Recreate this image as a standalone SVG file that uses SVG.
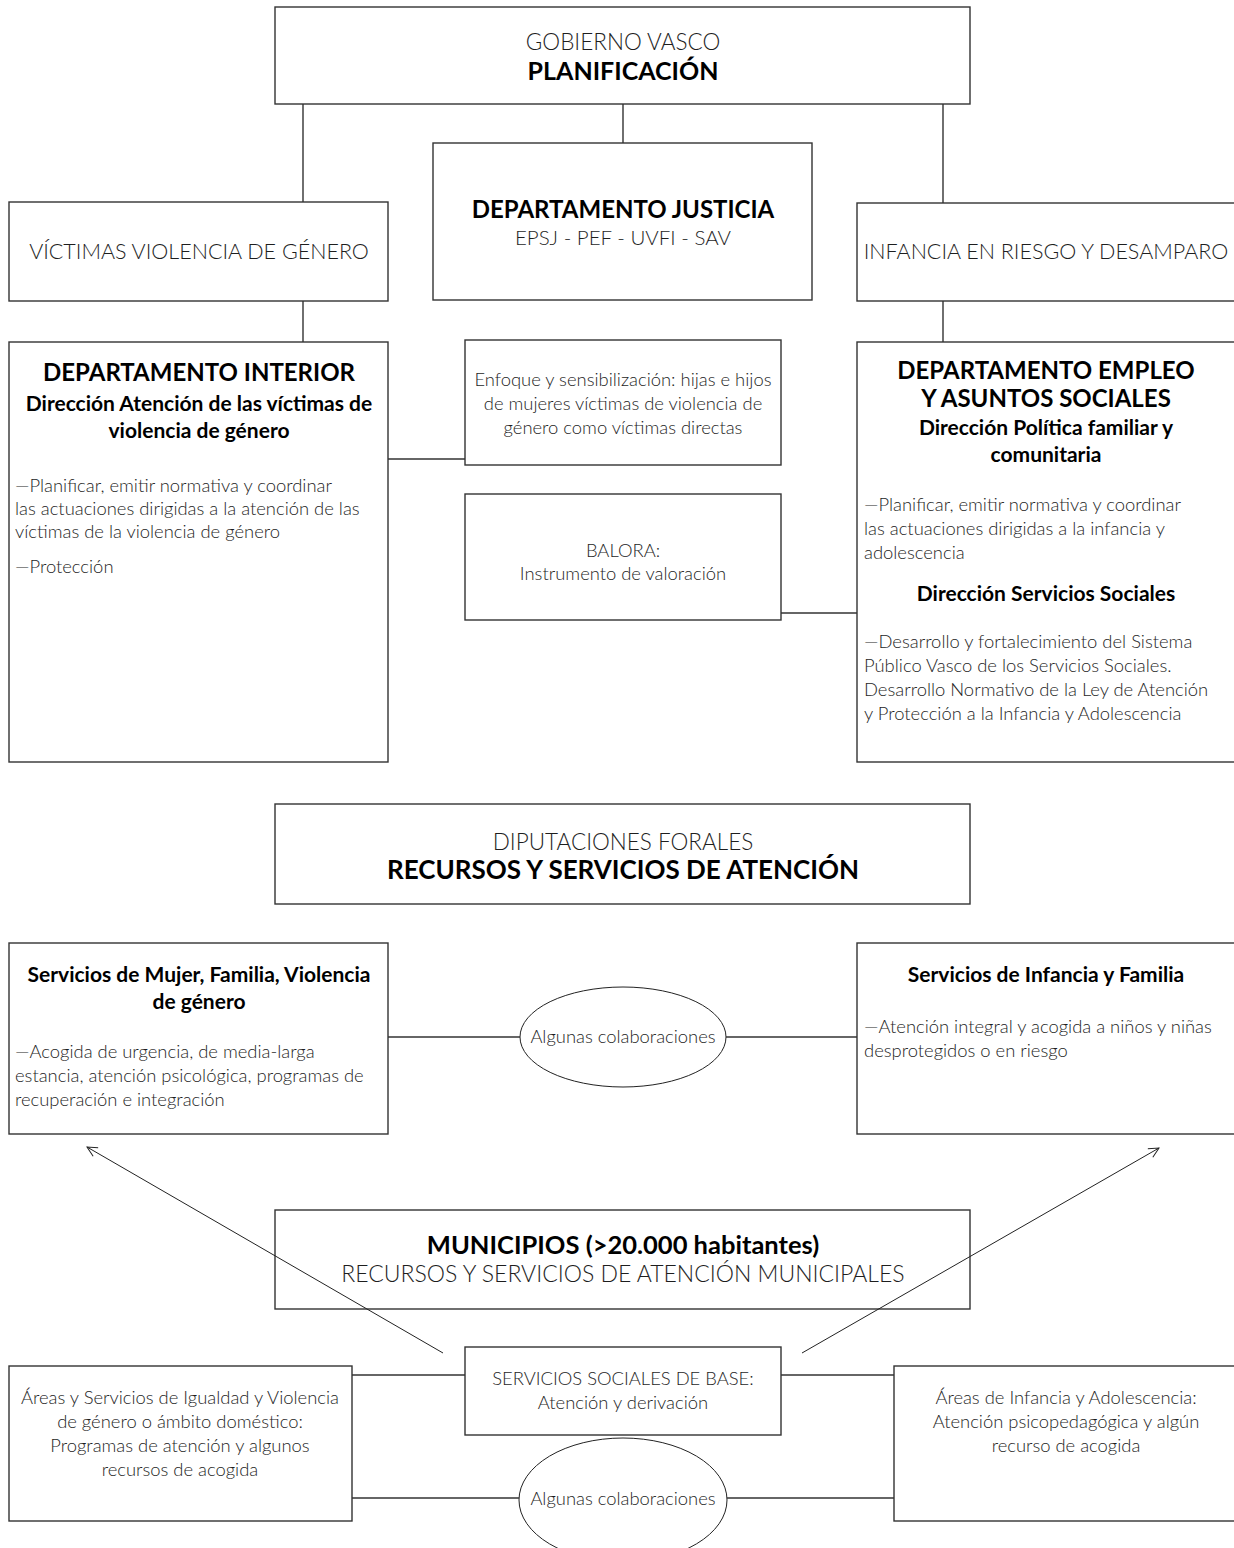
<svg xmlns="http://www.w3.org/2000/svg" width="1234" height="1548" viewBox="0 0 1234 1548">
<style>
.box{fill:#fff;stroke:#333;stroke-width:1.4}
.ell{fill:#fff;stroke:#222;stroke-width:1}
.ln{fill:none;stroke:#333;stroke-width:1.4}
.arr{fill:none;stroke:#222;stroke-width:1}
text{font-family:Lato,"Open Sans","Liberation Sans",sans-serif;fill:#1e1e1e}
.lt{font-weight:300}
.b{font-weight:700;fill:#000}
.c{text-anchor:middle}
.hb{font-size:24px}
.h2{font-size:21px}
.t{font-size:18.4px}
.u{font-size:21.5px}
</style>
<defs>
<marker id="open" viewBox="0 0 12 12" refX="11" refY="6" markerWidth="12" markerHeight="12" markerUnits="userSpaceOnUse" orient="auto">
<path d="M1,1 L11,6 L1,11" fill="none" stroke="#222" stroke-width="1"/>
</marker>
</defs>
<g id="gobierno">
<rect class="box" x="275" y="7" width="695" height="97"/>
<text class="lt c" x="623" y="50" font-size="22.5">GOBIERNO VASCO</text>
<text class="b c" x="623" y="80" font-size="25">PLANIFICACIÓN</text>
</g>
<g id="victimas">
<rect class="box" x="9" y="202" width="379" height="99"/>
<text class="lt c u" x="199" y="259">VÍCTIMAS VIOLENCIA DE GÉNERO</text>
</g>
<g id="justicia">
<rect class="box" x="433" y="143" width="379" height="157"/>
<text class="b c hb" x="623" y="218">DEPARTAMENTO JUSTICIA</text>
<text class="lt c" x="623" y="245" font-size="20.5">EPSJ - PEF - UVFI - SAV</text>
</g>
<g id="infancia">
<rect class="box" x="857" y="203" width="385" height="98"/>
<text class="lt c u" x="1046" y="259">INFANCIA EN RIESGO Y DESAMPARO</text>
</g>
<g id="interior">
<rect class="box" x="9" y="342" width="379" height="420"/>
<text class="b c hb" x="199" y="381">DEPARTAMENTO INTERIOR</text>
<text class="b c h2" x="199" y="411">Dirección Atención de las víctimas de</text>
<text class="b c h2" x="199" y="438">violencia de género</text>
<text class="lt t" x="15" y="492">—Planificar, emitir normativa y coordinar</text>
<text class="lt t" x="15" y="515">las actuaciones dirigidas a la atención de las</text>
<text class="lt t" x="15" y="538">víctimas de la violencia de género</text>
<text class="lt t" x="15" y="573">—Protección</text>
</g>
<g id="enfoque">
<rect class="box" x="465" y="340" width="316" height="125"/>
<text class="lt c t" x="623" y="386">Enfoque y sensibilización: hijas e hijos</text>
<text class="lt c t" x="623" y="410">de mujeres víctimas de violencia de</text>
<text class="lt c t" x="623" y="434">género como víctimas directas</text>
</g>
<g id="balora">
<rect class="box" x="465" y="494" width="316" height="126"/>
<text class="lt c t" x="623" y="557">BALORA:</text>
<text class="lt c t" x="623" y="580">Instrumento de valoración</text>
</g>
<g id="empleo">
<rect class="box" x="857" y="342" width="385" height="420"/>
<text class="b c hb" x="1046" y="379">DEPARTAMENTO EMPLEO</text>
<text class="b c hb" x="1046" y="407">Y ASUNTOS SOCIALES</text>
<text class="b c h2" x="1046" y="435">Dirección Política familiar y</text>
<text class="b c h2" x="1046" y="462">comunitaria</text>
<text class="lt t" x="864" y="511">—Planificar, emitir normativa y coordinar</text>
<text class="lt t" x="864" y="535">las actuaciones dirigidas a la infancia y</text>
<text class="lt t" x="864" y="559">adolescencia</text>
<text class="b c h2" x="1046" y="601">Dirección Servicios Sociales</text>
<text class="lt t" x="864" y="648">—Desarrollo y fortalecimiento del Sistema</text>
<text class="lt t" x="864" y="672">Público Vasco de los Servicios Sociales.</text>
<text class="lt t" x="864" y="696">Desarrollo Normativo de la Ley de Atención</text>
<text class="lt t" x="864" y="720">y Protección a la Infancia y Adolescencia</text>
</g>
<g id="diputaciones">
<rect class="box" x="275" y="804" width="695" height="100"/>
<text class="lt c" x="623" y="850" font-size="22.5">DIPUTACIONES FORALES</text>
<text class="b c" x="623" y="879" font-size="26">RECURSOS Y SERVICIOS DE ATENCIÓN</text>
</g>
<g id="serv-mujer">
<rect class="box" x="9" y="943" width="379" height="191"/>
<text class="b c h2" x="199" y="982">Servicios de Mujer, Familia, Violencia</text>
<text class="b c h2" x="199" y="1009">de género</text>
<text class="lt t" x="15" y="1058">—Acogida de urgencia, de media-larga</text>
<text class="lt t" x="15" y="1082">estancia, atención psicológica, programas de</text>
<text class="lt t" x="15" y="1106">recuperación e integración</text>
</g>
<g id="colab1">
<ellipse class="ell" cx="623" cy="1037" rx="103" ry="50"/>
<text class="lt c t" x="623" y="1043">Algunas colaboraciones</text>
</g>
<g id="serv-infancia">
<rect class="box" x="857" y="943" width="385" height="191"/>
<text class="b c h2" x="1046" y="982">Servicios de Infancia y Familia</text>
<text class="lt t" x="864" y="1033">—Atención integral y acogida a niños y niñas</text>
<text class="lt t" x="864" y="1057">desprotegidos o en riesgo</text>
</g>
<g id="municipios">
<rect class="box" x="275" y="1210" width="695" height="99"/>
<text class="b c" x="623" y="1254" font-size="25.5">MUNICIPIOS (&gt;20.000 habitantes)</text>
<text class="lt c" x="623" y="1282" font-size="23">RECURSOS Y SERVICIOS DE ATENCIÓN MUNICIPALES</text>
</g>
<g id="ssb">
<rect class="box" x="465" y="1347" width="316" height="88"/>
<text class="lt c t" x="623" y="1385">SERVICIOS SOCIALES DE BASE:</text>
<text class="lt c t" x="623" y="1409">Atención y derivación</text>
</g>
<g id="areas-igualdad">
<rect class="box" x="9" y="1366" width="343" height="155"/>
<text class="lt c t" x="180" y="1404">Áreas y Servicios de Igualdad y Violencia</text>
<text class="lt c t" x="180" y="1428">de género o ámbito doméstico:</text>
<text class="lt c t" x="180" y="1452">Programas de atención y algunos</text>
<text class="lt c t" x="180" y="1476">recursos de acogida</text>
</g>
<g id="areas-infancia">
<rect class="box" x="894" y="1366" width="348" height="155"/>
<text class="lt c t" x="1066" y="1404">Áreas de Infancia y Adolescencia:</text>
<text class="lt c t" x="1066" y="1428">Atención psicopedagógica y algún</text>
<text class="lt c t" x="1066" y="1452">recurso de acogida</text>
</g>
<g id="colab2">
<ellipse class="ell" cx="623" cy="1500" rx="104" ry="62"/>
<text class="lt c t" x="623" y="1505">Algunas colaboraciones</text>
</g>
<g id="connectors">
<line class="ln" x1="303" y1="104" x2="303" y2="202"/>
<line class="ln" x1="623" y1="104" x2="623" y2="143"/>
<line class="ln" x1="943" y1="104" x2="943" y2="203"/>
<line class="ln" x1="303" y1="301" x2="303" y2="342"/>
<line class="ln" x1="943" y1="301" x2="943" y2="342"/>
<line class="ln" x1="388" y1="459" x2="465" y2="459"/>
<line class="ln" x1="781" y1="613" x2="857" y2="613"/>
<line class="ln" x1="388" y1="1037" x2="520" y2="1037"/>
<line class="ln" x1="726" y1="1037" x2="857" y2="1037"/>
<line class="arr" x1="443" y1="1353" x2="87" y2="1147" marker-end="url(#open)"/>
<line class="arr" x1="802" y1="1353" x2="1159" y2="1148" marker-end="url(#open)"/>
<line class="ln" x1="352" y1="1375" x2="465" y2="1375"/>
<line class="ln" x1="781" y1="1375" x2="894" y2="1375"/>
<line class="ln" x1="352" y1="1498" x2="519" y2="1498"/>
<line class="ln" x1="727" y1="1498" x2="894" y2="1498"/>
</g>
</svg>
